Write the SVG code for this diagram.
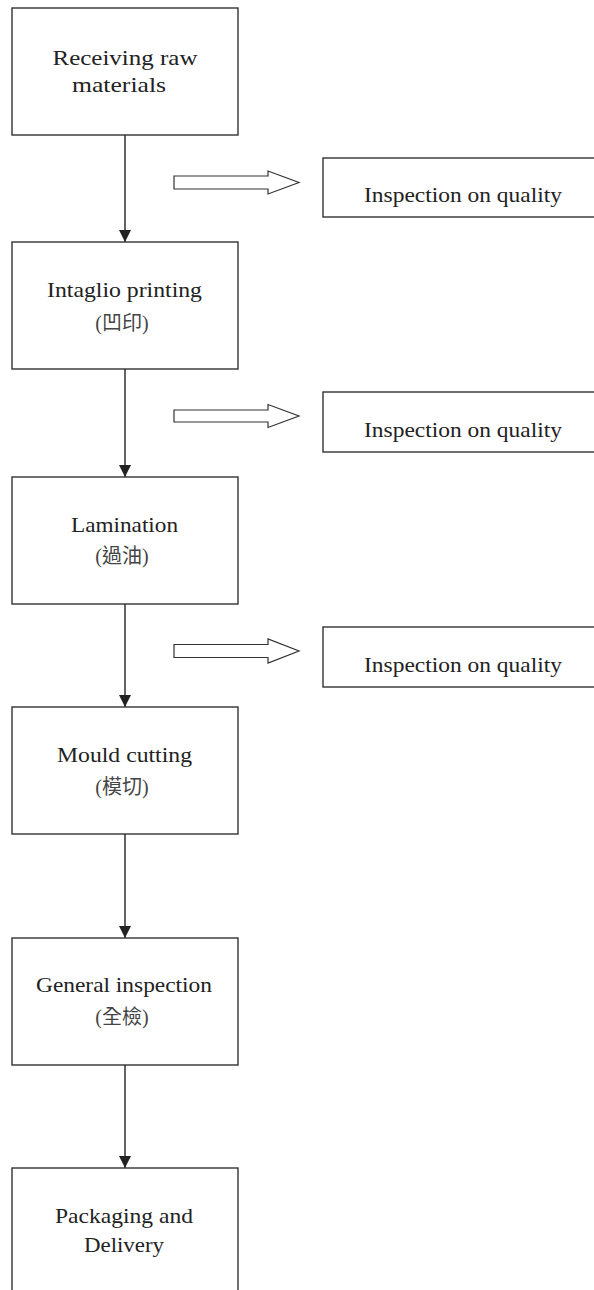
<svg xmlns="http://www.w3.org/2000/svg" width="594" height="1290" viewBox="0 0 594 1290">
<style>
.box{fill:#fff;stroke:#333;stroke-width:1.4}
.t{font-family:"Liberation Serif","Noto Sans CJK TC",serif;font-size:21px;fill:#222;text-anchor:middle}
.c{font-family:"Liberation Serif","Noto Sans CJK TC",serif;font-size:20px;fill:#444;text-anchor:middle}
.ln{stroke:#222;stroke-width:1.4;fill:none}
.ha{fill:#fff;stroke:#333;stroke-width:1.2}
</style>
<defs>
<marker id="ah" viewBox="0 0 12 12" refX="12" refY="6" markerWidth="12" markerHeight="12" markerUnits="userSpaceOnUse" orient="auto">
<path d="M0,0 L12,6 L0,12 Z" fill="#222"/>
</marker>
</defs>
<rect width="594" height="1290" fill="#fff"/>
<g id="connectors">
<line class="ln" x1="125" y1="135" x2="125" y2="242" marker-end="url(#ah)"/>
<line class="ln" x1="125" y1="369" x2="125" y2="477" marker-end="url(#ah)"/>
<line class="ln" x1="125" y1="604" x2="125" y2="707" marker-end="url(#ah)"/>
<line class="ln" x1="125" y1="834" x2="125" y2="938" marker-end="url(#ah)"/>
<line class="ln" x1="125" y1="1065" x2="125" y2="1168" marker-end="url(#ah)"/>
<polygon class="ha" points="174,176 268,176 268,171 299,182.5 268,194 268,189 174,189"/>
<polygon class="ha" points="174,410 268,410 268,404.5 299,416 268,427.5 268,422 174,422"/>
<polygon class="ha" points="174,644.5 268,644.5 268,639 299,651 268,663 268,657.5 174,657.5"/>
</g>
<g id="n1">
<rect class="box" x="12" y="8" width="226" height="127"/>
<text class="t" x="125" y="65" textLength="145" lengthAdjust="spacingAndGlyphs">Receiving raw</text>
<text class="t" x="119" y="92" textLength="94" lengthAdjust="spacingAndGlyphs">materials</text>
</g>
<g id="n2">
<rect class="box" x="12" y="242" width="226" height="127"/>
<text class="t" x="124.5" y="296.5" textLength="155" lengthAdjust="spacingAndGlyphs">Intaglio printing</text>
<text class="c" x="122" y="330">(凹印)</text>
</g>
<g id="n3">
<rect class="box" x="12" y="477" width="226" height="127"/>
<text class="t" x="124.5" y="531.5" textLength="107" lengthAdjust="spacingAndGlyphs">Lamination</text>
<text class="c" x="122" y="563">(過油)</text>
</g>
<g id="n4">
<rect class="box" x="12" y="707" width="226" height="127"/>
<text class="t" x="124.5" y="761.5" textLength="135" lengthAdjust="spacingAndGlyphs">Mould cutting</text>
<text class="c" x="122" y="793.5">(模切)</text>
</g>
<g id="n5">
<rect class="box" x="12" y="938" width="226" height="127"/>
<text class="t" x="124" y="991.5" textLength="176" lengthAdjust="spacingAndGlyphs">General inspection</text>
<text class="c" x="122" y="1024">(全檢)</text>
</g>
<g id="n6">
<rect class="box" x="12" y="1168" width="226" height="140"/>
<text class="t" x="124" y="1223" textLength="138" lengthAdjust="spacingAndGlyphs">Packaging and</text>
<text class="t" x="124" y="1252" textLength="80" lengthAdjust="spacingAndGlyphs">Delivery</text>
</g>
<g id="q1">
<rect class="box" x="323" y="158" width="290" height="59"/>
<text class="t" x="463" y="202" textLength="198" lengthAdjust="spacingAndGlyphs">Inspection on quality</text>
</g>
<g id="q2">
<rect class="box" x="323" y="392" width="290" height="60"/>
<text class="t" x="463" y="436.5" textLength="198" lengthAdjust="spacingAndGlyphs">Inspection on quality</text>
</g>
<g id="q3">
<rect class="box" x="323" y="627" width="290" height="60"/>
<text class="t" x="463" y="671.5" textLength="198" lengthAdjust="spacingAndGlyphs">Inspection on quality</text>
</g>
</svg>
